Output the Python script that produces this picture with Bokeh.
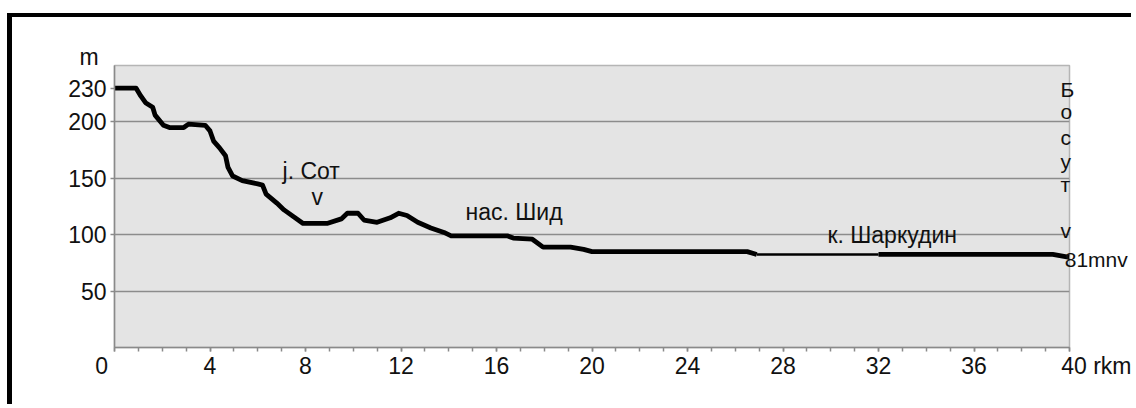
from bokeh.plotting import figure
from bokeh.models import Range1d, FixedTicker, Label, LinearAxis
from bokeh.embed import file_html
from bokeh.resources import INLINE

# ---- data (river profile: distance in rkm, elevation in m) ----
km = [0, 0.9, 1.1, 1.3, 1.6, 1.7, 2.05, 2.3, 2.9, 3.1, 3.8, 4.0, 4.15, 4.4, 4.65,
      4.75, 4.95, 5.35, 6.0, 6.2, 6.35, 6.8, 7.1, 7.9, 8.9, 9.5, 9.75, 10.2, 10.45,
      11.0, 11.55, 11.9, 12.25, 12.7, 13.25, 13.8, 14.1, 16.45, 16.7, 17.5, 17.95,
      19.1, 19.65, 20.0, 26.5, 26.9, 32.0, 39.3, 40.0]
elev = [230, 230, 223, 217, 213, 206, 197, 195, 195, 198, 197, 192, 183, 177, 170,
        160, 152, 148, 145, 144, 136, 128, 122, 110, 110, 114, 119, 119, 113,
        111, 115, 119, 117, 111, 106, 102, 99, 99, 97, 96, 89,
        89, 87, 85, 85, 82.5, 82.5, 82.5, 80]

x_ticks = [0, 4, 8, 12, 16, 20, 24, 28, 32, 36, 40]
x_tick_labels = ["0", "4", "8", "12", "16", "20", "24", "28", "32", "36", "40"]
x_minor = list(range(0, 41))
y_ticks = [50, 100, 150, 200, 230]
y_tick_labels = ["50", "100", "150", "200", "230"]
y_grid = [50, 100, 150, 200]
x_unit = "rkm"
y_unit = "m"

place_names = ["j. Сот", "v", "нас. Шид", "к. Шаркудин"]
place_x = [7.04, 8.49, 14.7, 29.86]
place_y = [156.5, 133.3, 120.5, 99.5]
place_align = ["left", "center", "left", "left"]

river_letters = ["Б", "о", "с", "у", "т", "v"]
river_label_y = [228.3, 208.8, 186.6, 165.3, 144.1, 103.3]
mouth_label = "81mnv"
mouth_label_y = 77.6

FONT = "Liberation Sans"
FS = "23px"
NB = "\u00a0"
THIN = "\u2009"

p = figure(width=1124, height=391, output_backend="svg", toolbar_location=None,
           x_range=Range1d(0, 40), y_range=Range1d(0, 250),
           min_border_left=102, min_border_right=67, min_border_top=48,
           min_border_bottom=61)
p.styles = {"margin-left": "7px", "margin-top": "13px",
            "border-left": "5px solid black", "border-top": "4px solid black"}
p.background_fill_color = "#e4e4e4"
p.border_fill_color = "white"
p.outline_line_color = "#b5b5b5"
p.outline_line_width = 1.5

# title used as the "m" unit label
p.title.text = y_unit
p.title.align = "left"
p.title.offset = -35
p.title.standoff = -8
p.title.text_font = FONT
p.title.text_font_size = FS
p.title.text_font_style = "normal"
p.title.text_color = "#111111"

# axes
overrides_x = dict(zip(x_ticks, x_tick_labels))
overrides_x[0] = x_tick_labels[0] + NB * 4
overrides_x[40] = NB * 9 + x_tick_labels[-1] + " " + x_unit
p.xaxis.ticker = FixedTicker(ticks=x_ticks, minor_ticks=x_minor)
p.xaxis.major_label_overrides = overrides_x
p.yaxis.ticker = FixedTicker(ticks=y_ticks, minor_ticks=[])
p.yaxis.major_label_overrides = dict(zip(y_ticks, y_tick_labels))
for ax in (p.xaxis[0], p.yaxis[0]):
    ax.axis_line_color = "#8a8a8a"
    ax.axis_line_width = 1.5
    ax.major_tick_line_color = "#8a8a8a"
    ax.major_tick_line_width = 1.5
    ax.minor_tick_line_color = "#8a8a8a"
    ax.minor_tick_line_width = 1.5
    ax.major_tick_in = 0
    ax.major_tick_out = 4
    ax.minor_tick_in = 0
    ax.minor_tick_out = 4
    ax.major_label_text_font = FONT
    ax.major_label_text_font_size = FS
    ax.major_label_text_color = "#111111"
p.xaxis.major_label_standoff = 1
p.yaxis.major_label_standoff = 4

# right-hand labels (river name written vertically, mouth elevation)
right_ticks = river_label_y + [mouth_label_y]
right_labels = river_letters + [THIN + mouth_label]
rax = LinearAxis(ticker=FixedTicker(ticks=right_ticks, minor_ticks=[]),
                 major_label_overrides=dict(zip(right_ticks, right_labels)),
                 axis_line_color=None, major_tick_line_color=None,
                 minor_tick_line_color=None, major_tick_in=0, major_tick_out=0,
                 major_label_standoff=-9, major_label_text_font=FONT,
                 major_label_text_font_size="21px", major_label_text_color="#111111")
p.add_layout(rax, "right")

p.xgrid.visible = False
p.ygrid.ticker = FixedTicker(ticks=y_grid)
p.ygrid.grid_line_color = "#8c8c8c"
p.ygrid.grid_line_width = 1.5

# profile line (thin flat stretch between 26.9 and 32 rkm)
i0 = km.index(26.9)
i1 = km.index(32.0)
p.line(km[:i0 + 1], elev[:i0 + 1], line_color="black", line_width=4.8, line_join="round")
p.line(km[i0:i1 + 1], elev[i0:i1 + 1], line_color="black", line_width=2.4)
p.line(km[i1:], elev[i1:], line_color="black", line_width=4.8, line_join="round")

for name, x, y, a in zip(place_names, place_x, place_y, place_align):
    p.add_layout(Label(x=x, y=y, text=name, text_font=FONT, text_font_size=FS,
                       text_color="#111111", text_align=a,
                       text_baseline="alphabetic"))

open("out.html", "w").write(file_html(p, INLINE))
